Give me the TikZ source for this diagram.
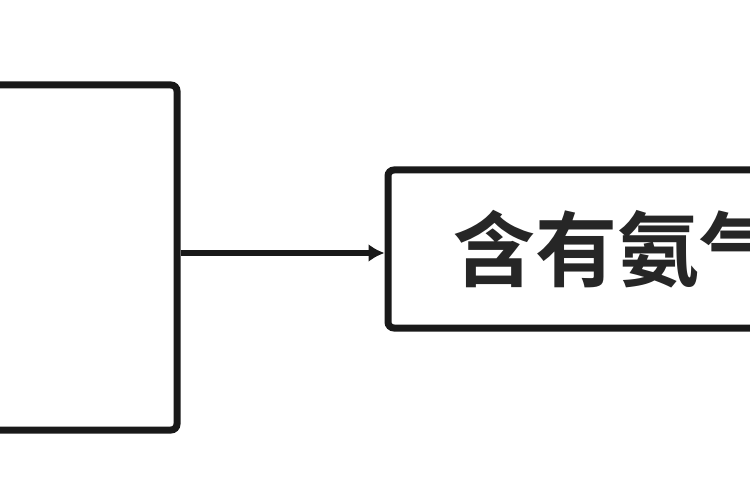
\documentclass[tikz,border=0pt]{standalone}
\usepackage{fontspec}
\newfontfamily\cjk{Noto Sans CJK SC Bold}
\usetikzlibrary{arrows.meta}
\tikzset{
  frame/.style={draw=black!90, line width=7pt, rounded corners=6pt, inner sep=0pt, fill=white},
  conn/.style={draw=black!90, line width=6pt, -{Latex[length=16pt,width=18pt]}},
  label/.style={font=\cjk\fontsize{82pt}{84pt}\selectfont, text=black!85, anchor=west, inner sep=0pt}
}
\begin{document}
\begin{tikzpicture}[x=1pt,y=-1pt]
\useasboundingbox (0,0) rectangle (750,500);
\fill[white] (0,0) rectangle (750,500);
\clip (0,0) rectangle (750,500);
\node[frame, minimum width=220pt, minimum height=345pt] (a) at (67,257.5) {};
\node[frame, minimum width=440pt, minimum height=158pt] (b) at (608,249) {};
\node[label] (t) at (453,249) {含有氨气};
\draw[conn] (a.east |- 0,253) -- (b.west |- 0,253);
\end{tikzpicture}
\end{document}
